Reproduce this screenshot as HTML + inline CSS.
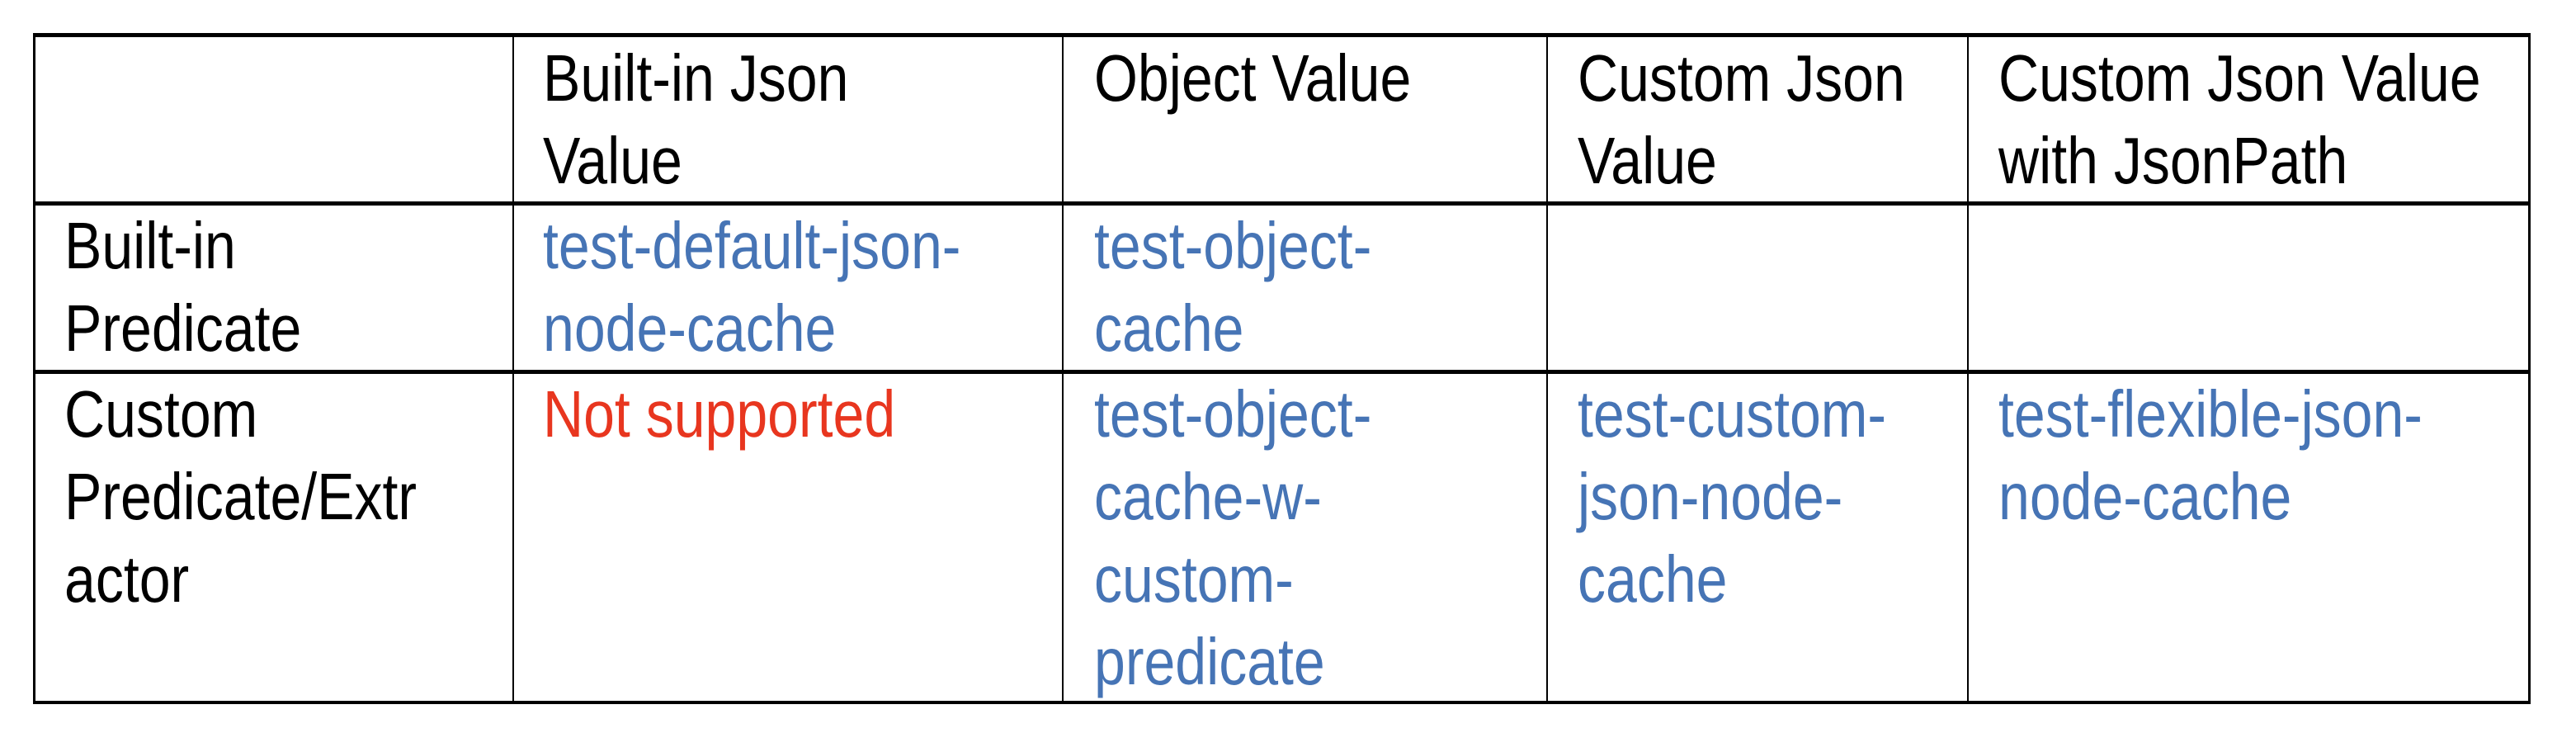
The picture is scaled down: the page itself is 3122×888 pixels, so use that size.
<!DOCTYPE html>
<html><head><meta charset="utf-8"><style>
html,body{margin:0;padding:0;background:#fff;}
body{width:3122px;height:888px;position:relative;overflow:hidden;font-family:"Liberation Sans",sans-serif;}
.h{position:absolute;background:#000;}
.c{position:absolute;font-size:80px;line-height:100px;white-space:nowrap;transform:scaleX(0.85);transform-origin:0 0;color:#000;}
.b{color:#4674b5;}
.r{color:#e8361f;}
</style></head><body>
<div class="h" style="left:40px;top:40px;width:3027px;height:5px"></div>
<div class="h" style="left:40px;top:244px;width:3027px;height:5px"></div>
<div class="h" style="left:40px;top:448px;width:3027px;height:5px"></div>
<div class="h" style="left:40px;top:849px;width:3027px;height:4px"></div>
<div class="h" style="left:40px;top:40px;width:3px;height:813px"></div>
<div class="h" style="left:621px;top:40px;width:2px;height:813px"></div>
<div class="h" style="left:1287px;top:40px;width:2px;height:813px"></div>
<div class="h" style="left:1874px;top:40px;width:2px;height:813px"></div>
<div class="h" style="left:2384px;top:40px;width:2px;height:813px"></div>
<div class="h" style="left:3064px;top:40px;width:3px;height:813px"></div>

<div class="c" style="left:658px;top:45px">Built-in Json<br>Value</div>
<div class="c" style="left:1326px;top:45px">Object Value</div>
<div class="c" style="left:1912px;top:45px">Custom Json<br>Value</div>
<div class="c" style="left:2422px;top:45px">Custom Json Value<br>with JsonPath</div>

<div class="c" style="left:78px;top:248px">Built-in<br>Predicate</div>
<div class="c b" style="left:658px;top:248px">test-default-json-<br>node-cache</div>
<div class="c b" style="left:1326px;top:248px">test-object-<br>cache</div>

<div class="c" style="left:78px;top:452px">Custom<br>Predicate/Extr<br>actor</div>
<div class="c r" style="left:658px;top:452px">Not supported</div>
<div class="c b" style="left:1326px;top:452px">test-object-<br>cache-w-<br>custom-<br>predicate</div>
<div class="c b" style="left:1912px;top:452px">test-custom-<br>json-node-<br>cache</div>
<div class="c b" style="left:2422px;top:452px">test-flexible-json-<br>node-cache</div>
</body></html>
